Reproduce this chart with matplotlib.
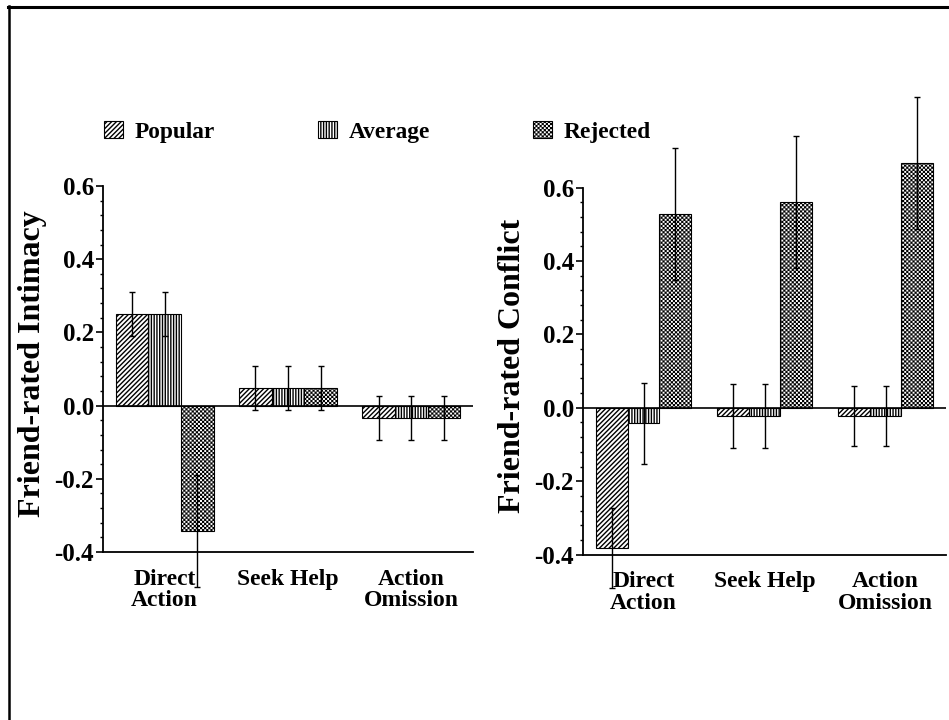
import numpy as np
import matplotlib
matplotlib.use('Agg')
import matplotlib.pyplot as plt
import matplotlib.hatch as mhatch
import matplotlib.transforms as mtransforms
from matplotlib.lines import Line2D
from matplotlib.path import Path
from matplotlib.ticker import FixedLocator, FormatStrFormatter


# serif bold, like the original figure
plt.rcParams['font.family'] = 'Liberation Serif'
plt.rcParams['font.weight'] = 'bold'
plt.rcParams['axes.labelweight'] = 'bold'
plt.rcParams['axes.unicode_minus'] = False
plt.rcParams['hatch.linewidth'] = 1.0


# data
categories = ['Direct\nAction', 'Seek Help', 'Action\nOmission']
groups = ['Popular', 'Average', 'Rejected']

intimacy_popular = [0.25, 0.047, -0.035]
intimacy_average = [0.25, 0.047, -0.035]
intimacy_rejected = [-0.342, 0.047, -0.035]
intimacy_popular_err = [0.06, 0.06, 0.06]
intimacy_average_err = [0.06, 0.06, 0.06]
intimacy_rejected_err = [0.153, 0.06, 0.06]

conflict_popular = [-0.382, -0.022, -0.022]
conflict_average = [-0.042, -0.022, -0.022]
conflict_rejected = [0.527, 0.56, 0.667]
conflict_popular_err = [0.11, 0.088, 0.082]
conflict_average_err = [0.11, 0.088, 0.082]
conflict_rejected_err = [0.18, 0.18, 0.18]

major_ticks = [-0.4, -0.2, 0.0, 0.2, 0.4, 0.6]


# checkerboard hatch (takes the place of the '*' stars pattern)
class CheckerHatch(mhatch.HatchPatternBase):
    def __init__(self, hatch, density):
        self.n = hatch.count('*') * density
        self.num_vertices = (self.n * self.n // 2) * 5

    def set_vertices_and_codes(self, vertices, codes):
        step = 1.0 / self.n
        shrink = plt.rcParams['hatch.linewidth'] / 72.0
        side = max(step - shrink, step * 0.4)
        sq = np.array([[0, 0], [1, 0], [1, 1], [0, 1], [0, 0]]) * side + (step - side) / 2
        k = 0
        for i in range(self.n):
            for j in range(self.n):
                if (i + j) % 2 == 0:
                    vertices[k:k + 5] = sq + [i * step, j * step]
                    codes[k:k + 5] = [Path.MOVETO, Path.LINETO, Path.LINETO,
                                      Path.LINETO, Path.CLOSEPOLY]
                    k += 5


mhatch._hatch_types[:] = [t for t in mhatch._hatch_types if t is not mhatch.Stars] + [CheckerHatch]

hatches = ['/' * 7, '|' * 6, '*' * 8]


def _draw_panel(ax, values, errors, ylabel, x_px):
    x = np.arange(len(categories))
    w = 0.264
    bars = []
    for i, (vals, errs) in enumerate(zip(values, errors)):
        pos = x + (i - 1) * w
        b = ax.bar(pos, vals, width=w, color='white', edgecolor='black',
                   linewidth=0.8, hatch=hatches[i], zorder=2, clip_on=False)
        ax.errorbar(pos, vals, yerr=errs, fmt='none', ecolor='black',
                    elinewidth=1.0, capsize=2.4, capthick=1.0, zorder=3, clip_on=False)
        bars.append(b)

    ax.axhline(0, color='black', linewidth=1.2, zorder=4)

    ax.set_xlim(-0.5, 2.5)
    ax.set_xticks(x, categories, fontsize=17, linespacing=1.05)
    ax.tick_params(axis='x', length=0, pad=12)

    ax.yaxis.set_major_locator(FixedLocator(major_ticks))
    minor = [v for v in np.arange(-0.4, 0.6001, 0.04) if min(abs(v - m) for m in major_ticks) > 1e-6]
    ax.yaxis.set_minor_locator(FixedLocator(minor))
    ax.yaxis.set_major_formatter(FormatStrFormatter('%.1f'))
    ax.tick_params(axis='y', which='major', length=5, width=1.2, labelsize=18, pad=1.5)
    ax.tick_params(axis='y', which='minor', length=2.5, width=1.0)

    for spine in ['top', 'right']:
        ax.spines[spine].set_visible(False)
    ax.spines['left'].set_bounds(-0.4, 0.6)
    ax.spines['left'].set_linewidth(1.3)
    ax.spines['bottom'].set_linewidth(1.3)

    ax.set_ylabel(ylabel, fontsize=23, fontweight='bold')
    trans = mtransforms.blended_transform_factory(ax.transAxes, ax.transData)
    ax.yaxis.set_label_coords(-55.5 / x_px, 0.115, transform=trans)

    return ax, bars


fig = plt.figure(figsize=(9.49, 7.2), dpi=100)

# axes placed in pixel terms of the original page
ax1 = fig.add_axes([103 / 949, 1 - 552 / 720, 370 / 949, 366 / 720])
ax1.set_ylim(-0.4, 0.6)
ax2 = fig.add_axes([583 / 949, 1 - 554.6 / 720, 363 / 949, 1.3 * 367 / 720])
ax2.set_ylim(-0.4, 0.9)

ax1, bars1 = _draw_panel(ax1,
                         [intimacy_popular, intimacy_average, intimacy_rejected],
                         [intimacy_popular_err, intimacy_average_err, intimacy_rejected_err],
                         'Friend-rated Intimacy', 370)
ax2, bars2 = _draw_panel(ax2,
                         [conflict_popular, conflict_average, conflict_rejected],
                         [conflict_popular_err, conflict_average_err, conflict_rejected_err],
                         'Friend-rated Conflict', 363)

fig.legend(bars1, groups, loc='center left', bbox_to_anchor=(104 / 949, 1 - 132 / 720),
           ncol=3, frameon=False, fontsize=16.8, borderpad=0, borderaxespad=0,
           handlelength=0.82, handleheight=0.77, handletextpad=0.5, columnspacing=4.4)

# page frame lines from the scanned figure
fig.add_artist(Line2D([8 / 949, 1], [1 - 7 / 720, 1 - 7 / 720], transform=fig.transFigure,
                      color='black', linewidth=2.2))
fig.add_artist(Line2D([9 / 949, 9 / 949], [0, 1 - 6 / 720], transform=fig.transFigure,
                      color='black', linewidth=1.8))

fig.savefig('out.png', dpi=100)
plt.close()
